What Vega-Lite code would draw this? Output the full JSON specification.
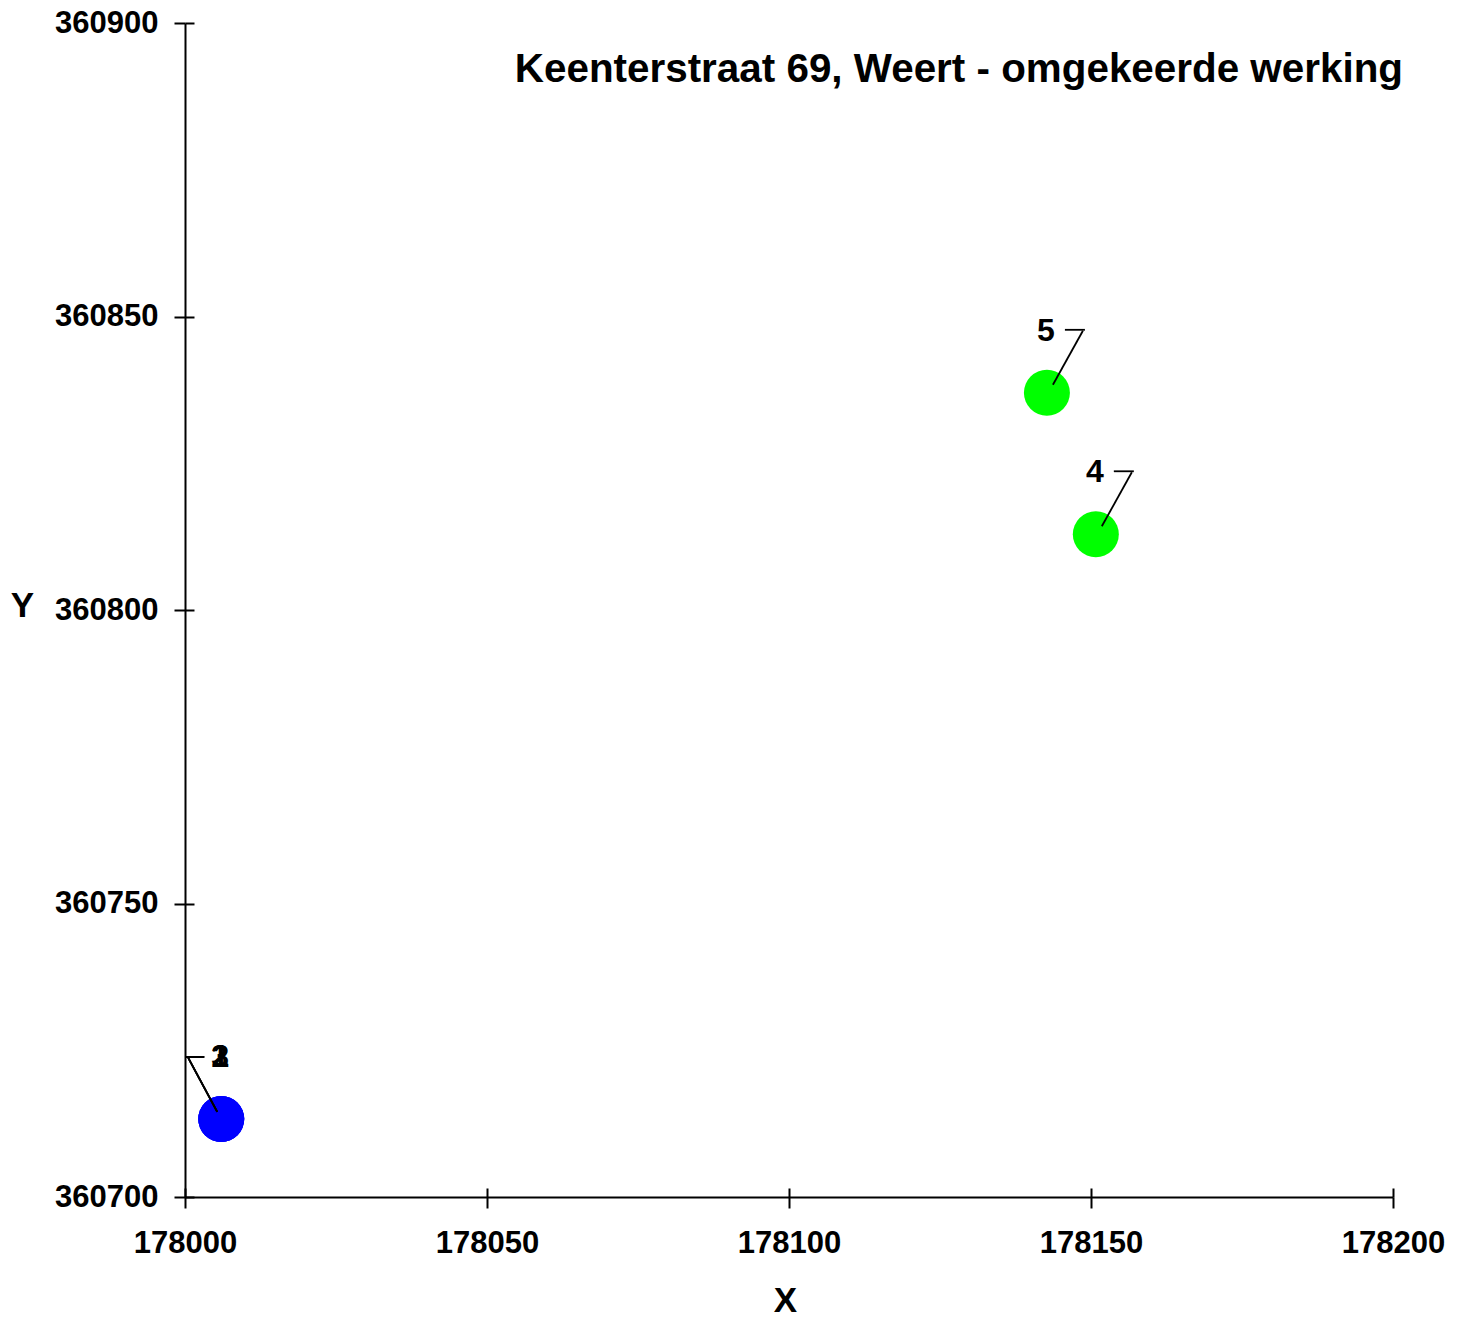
{
  "$schema": "https://vega.github.io/schema/vega-lite/v6.json",
  "width": 1208,
  "height": 1174,
  "autosize": {"type": "none"},
  "padding": {"left": 185, "top": 23, "right": 73, "bottom": 126},
  "background": "white",
  "config": {
    "view": {"stroke": null},
    "axis": {
      "labelFont": "Liberation Sans",
      "labelFontSize": 31,
      "labelFontWeight": "bold",
      "labelColor": "black",
      "tickSize": 11,
      "tickWidth": 2,
      "tickColor": "black",
      "domainColor": "black",
      "domainWidth": 2,
      "grid": true,
      "gridColor": "black",
      "gridWidth": 2,
      "gridOpacity": 1,
      "labelFlush": false,
      "labelOverlap": false,
      "titleFont": "Liberation Sans",
      "titleFontSize": 35,
      "titleFontWeight": "bold",
      "titleColor": "black",
      "titleAngle": 0,
      "titleAlign": "center",
      "titleBaseline": "middle"
    }
  },
  "data": {
    "values": [
      {"id": "1", "type": "A", "x": 178006.0, "y": 360713.3},
      {"id": "2", "type": "A", "x": 178006.0, "y": 360713.3},
      {"id": "3", "type": "A", "x": 178006.0, "y": 360713.3},
      {"id": "4", "type": "B", "x": 178150.8, "y": 360812.9},
      {"id": "5", "type": "B", "x": 178142.7, "y": 360837.0}
    ]
  },
  "layer": [
    {
      "mark": {"type": "circle", "size": 2116, "opacity": 1},
      "encoding": {
        "x": {
          "field": "x",
          "type": "quantitative",
          "scale": {"domain": [178000, 178200], "nice": false, "zero": false},
          "axis": {
            "values": [178000, 178050, 178100, 178150, 178200],
            "format": "d",
            "labelPadding": 20,
            "gridDash": [0, 1165, 9, 3000],
            "title": "X",
            "titleX": 600,
            "titleY": 103
          }
        },
        "y": {
          "field": "y",
          "type": "quantitative",
          "scale": {"domain": [360700, 360900], "nice": false, "zero": false},
          "axis": {
            "values": [360700, 360750, 360800, 360850, 360900],
            "format": "d",
            "labelPadding": 16,
            "gridDash": [9, 3000],
            "title": "Y",
            "titleX": -163,
            "titleY": 582
          }
        },
        "color": {
          "field": "type",
          "type": "nominal",
          "scale": {"domain": ["A", "B"], "range": ["#0000ff", "#00ff00"]},
          "legend": null
        }
      }
    },
    {
      "transform": [{"filter": "datum.type === 'B'"}],
      "mark": {"type": "rule", "color": "black", "strokeWidth": 1.8, "xOffset": 36, "yOffset": -62, "x2Offset": 6, "y2Offset": -8},
      "encoding": {"x": {"field": "x", "type": "quantitative"}, "y": {"field": "y", "type": "quantitative"}, "x2": {"field": "x"}, "y2": {"field": "y"}}
    },
    {
      "transform": [{"filter": "datum.type === 'B'"}],
      "mark": {"type": "rule", "color": "black", "strokeWidth": 1.8, "xOffset": 18, "yOffset": -63, "x2Offset": 38, "y2Offset": -63},
      "encoding": {"x": {"field": "x", "type": "quantitative"}, "y": {"field": "y", "type": "quantitative"}, "x2": {"field": "x"}, "y2": {"field": "y"}}
    },
    {
      "transform": [{"filter": "datum.type === 'A'"}],
      "mark": {"type": "rule", "color": "black", "strokeWidth": 1.8, "xOffset": -33, "yOffset": -61, "x2Offset": -4, "y2Offset": -7},
      "encoding": {"x": {"field": "x", "type": "quantitative"}, "y": {"field": "y", "type": "quantitative"}, "x2": {"field": "x"}, "y2": {"field": "y"}}
    },
    {
      "transform": [{"filter": "datum.type === 'A'"}],
      "mark": {"type": "rule", "color": "black", "strokeWidth": 1.8, "xOffset": -36, "yOffset": -62, "x2Offset": -17, "y2Offset": -62},
      "encoding": {"x": {"field": "x", "type": "quantitative"}, "y": {"field": "y", "type": "quantitative"}, "x2": {"field": "x"}, "y2": {"field": "y"}}
    },
    {
      "mark": {
        "type": "text",
        "dx": -1,
        "dy": -62,
        "align": "center",
        "baseline": "middle",
        "font": "Liberation Sans",
        "fontSize": 32,
        "fontWeight": "bold",
        "color": "black"
      },
      "encoding": {"x": {"field": "x", "type": "quantitative"}, "y": {"field": "y", "type": "quantitative"}, "text": {"field": "id"}}
    },
    {
      "transform": [{"filter": "datum.id === '5'"}],
      "mark": {
        "type": "text",
        "text": "Keenterstraat 69, Weert - omgekeerde werking",
        "align": "right",
        "baseline": "alphabetic",
        "dx": 10,
        "dy": 59,
        "font": "Liberation Sans",
        "fontSize": 40.4,
        "fontWeight": "bold",
        "color": "black"
      },
      "encoding": {
        "x": {"datum": 178200, "type": "quantitative"},
        "y": {"datum": 360900, "type": "quantitative"}
      }
    }
  ]
}
